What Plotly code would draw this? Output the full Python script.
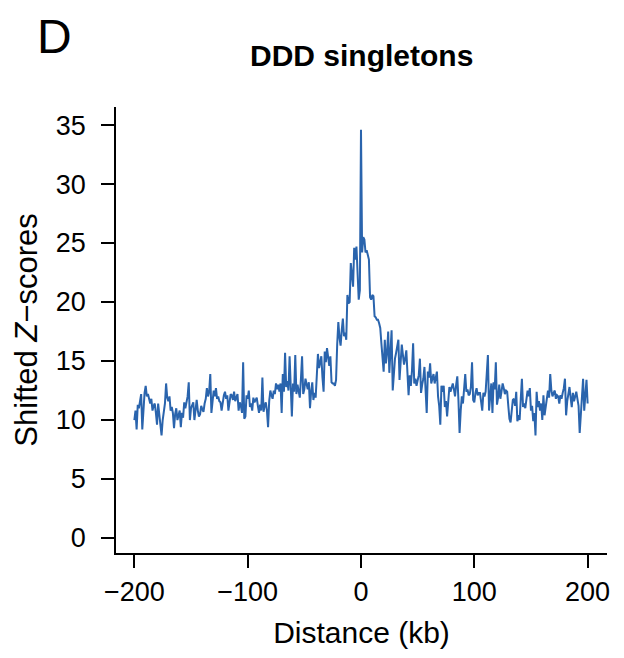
import plotly.graph_objects as go

# Distance (kb), 1 kb bins from -200 to 200
distance_kb = list(range(-200, 201))

# Shifted Z-scores
z_left = [
    10.0, 10.8, 9.2, 11.3, 11.0, 11.6, 12.2, 9.2, 11.4, 12.3,      # -200..-191
    12.9, 12.0, 12.2, 11.9, 11.4, 11.8, 10.8, 11.2, 11.4, 10.6,    # -190..-181
    9.6, 11.4, 10.5, 9.8, 8.7, 10.0, 10.8, 11.4, 13.1, 11.9,       # -180..-171
    11.6, 12.0, 10.8, 11.1, 10.6, 9.3, 10.5, 11.0, 10.0, 10.4,     # -170..-161
    10.8, 9.4, 10.6, 10.2, 11.5, 11.0, 11.4, 12.0, 13.2, 10.0,     # -160..-151
    11.0, 11.3, 11.5, 10.0, 11.0, 11.7, 10.8, 10.3, 10.5, 11.2,    # -150..-141
    10.9, 10.7, 11.4, 11.8, 12.7, 12.0, 12.4, 13.9, 10.6, 12.0,    # -140..-131
    12.5, 12.0, 12.7, 11.8, 12.0, 11.6, 11.5, 10.8, 11.6, 12.1,    # -130..-121
    12.4, 11.8, 12.1, 10.8, 11.5, 12.2, 12.1, 11.7, 12.4, 11.6,    # -120..-111
    11.9, 12.2, 10.8, 11.5, 11.2, 10.6, 14.9, 10.1, 10.3, 12.1,    # -110..-101
    11.8, 12.5, 11.1, 11.4, 10.8, 11.9, 11.5, 11.8, 11.9, 11.2,    # -100..-91
    10.6, 11.3, 10.8, 13.6, 10.7, 11.2, 11.5, 10.8, 9.4, 11.6,     # -90..-81
    12.5, 12.1, 11.8, 12.5, 12.2, 13.1, 12.6, 13.0, 12.4, 13.1,    # -80..-71
    10.6, 13.9, 12.4, 15.7, 12.8, 13.3, 12.5, 15.4, 12.9, 10.3,    # -70..-61
    13.1, 12.4, 15.5, 12.2, 13.0, 12.2, 11.9, 13.5, 15.4, 12.2,    # -60..-51
    12.6, 13.5, 13.0, 12.6, 13.2, 11.0, 12.4, 13.2, 11.7, 12.3,    # -50..-41
    11.9, 13.4, 15.6, 14.4, 14.8, 15.4, 13.6, 12.4, 15.8, 14.9,    # -40..-31
    16.1, 15.1, 14.6, 15.4, 13.2, 13.1, 13.1, 12.9, 13.4, 16.4,    # -30..-21
    18.3, 17.0, 16.3, 17.6, 18.6, 17.1, 17.4, 16.8, 20.6, 19.9,    # -20..-11
    20.0, 23.3, 22.4, 21.3, 24.6, 23.6, 24.7, 23.0, 20.2, 21.0,    # -10..-1
]
z_center = [34.6]                                                   # 0
z_right = [
    24.2, 25.5, 25.3, 24.2, 24.4, 24.1, 23.6, 20.4, 20.2, 20.6,    # 1..10
    20.5, 18.8, 18.7, 18.5, 18.5, 18.2, 17.8, 16.5, 15.1, 14.1,    # 11..20
    16.8, 14.8, 15.7, 17.5, 14.0, 15.5, 17.6, 12.5, 14.5, 15.2,    # 21..30
    15.7, 16.2, 16.8, 13.4, 14.8, 16.4, 15.5, 14.7, 15.2, 15.9,    # 31..40
    14.0, 12.1, 13.8, 12.9, 14.2, 16.5, 13.1, 13.5, 12.9, 13.4,    # 41..50
    13.8, 15.2, 12.3, 13.0, 13.5, 14.5, 12.8, 10.6, 14.1, 13.6,    # 51..60
    14.8, 13.1, 13.5, 13.9, 13.1, 13.6, 14.1, 12.0, 11.2, 9.6,     # 61..70
    12.9, 12.4, 12.9, 11.1, 11.6, 10.3, 12.1, 12.8, 12.4, 12.9,    # 71..80
    13.1, 12.6, 12.0, 13.0, 13.7, 11.7, 8.9, 10.8, 12.0, 11.4,     # 81..90
    12.5, 13.9, 12.4, 12.6, 12.1, 12.2, 12.8, 14.9, 11.7, 11.5,    # 91..100
    12.3, 12.7, 12.1, 12.3, 12.3, 11.6, 10.8, 12.3, 12.0, 12.4,    # 101..110
    13.8, 15.5, 10.8, 12.2, 13.1, 10.6, 13.2, 12.6, 14.9, 11.3,    # 111..120
    11.9, 13.0, 11.8, 12.4, 13.1, 12.7, 12.2, 12.5, 12.4, 11.2,    # 121..130
    10.1, 9.8, 10.9, 11.7, 11.8, 11.2, 12.4, 9.9, 10.4, 10.0,      # 131..140
    11.8, 13.5, 11.1, 11.4, 11.0, 11.8, 12.5, 12.0, 12.7, 10.8,    # 141..150
    11.2, 9.9, 10.6, 8.7, 12.4, 11.1, 11.6, 10.8, 11.4, 10.0,      # 151..160
    12.1, 10.4, 11.3, 12.1, 12.5, 11.9, 13.9, 12.5, 12.0, 12.3,    # 161..170
    12.5, 11.8, 12.1, 12.0, 11.4, 12.1, 11.8, 12.3, 12.7, 13.5,    # 171..180
    10.4, 11.6, 12.1, 12.8, 11.9, 11.1, 12.3, 11.6, 12.0, 12.4,    # 181..190
    11.8, 11.2, 8.9, 10.6, 11.4, 13.5, 10.8, 12.4, 13.4, 11.4,     # 191..200
]
z_scores = z_left + z_center + z_right

x_ticks = [-200, -100, 0, 100, 200]
y_ticks = [0, 5, 10, 15, 20, 25, 30, 35]

FONT = "Liberation Sans, Arial, Helvetica, sans-serif"

fig = go.Figure()
fig.add_trace(go.Scatter(
    x=distance_kb, y=z_scores, mode="lines",
    line=dict(color="#2a64ad", width=2),
    hoverinfo="x+y", showlegend=False,
))

axis_common = dict(
    showline=True, linecolor="black", linewidth=1.8,
    ticks="outside", ticklen=13, tickwidth=1.8, tickcolor="black",
    showgrid=False, zeroline=False,
    tickfont=dict(family=FONT, size=27, color="black"),
)

fig.update_layout(
    width=624, height=658,
    margin=dict(l=116, r=17, t=107, b=105),
    paper_bgcolor="white", plot_bgcolor="white",
    font=dict(family=FONT, color="black"),
    xaxis=dict(
        range=[-216.2, 217.1], tickvals=x_ticks,
        ticklabelstandoff=1,
        title=dict(text="Distance (kb)", font=dict(family=FONT, size=30), standoff=16),
        **axis_common,
    ),
    yaxis=dict(
        range=[-1.27, 36.53], tickvals=y_ticks,
        ticklabelstandoff=10,
        title=dict(text="Shifted <i>Z</i>\u2212scores", font=dict(family=FONT, size=31), standoff=9),
        **axis_common,
    ),
    annotations=[
        dict(text="<b>DDD singletons</b>", xref="paper", yref="paper",
             x=0.5, y=1.0, yshift=52, xanchor="center", yanchor="middle",
             showarrow=False, font=dict(family=FONT, size=30, color="black")),
        dict(text="D", xref="paper", yref="paper",
             x=0, y=1, xshift=-62, yshift=71, xanchor="center", yanchor="middle",
             showarrow=False, font=dict(family=FONT, size=48, color="black")),
    ],
)

fig.write_html("out.html")
